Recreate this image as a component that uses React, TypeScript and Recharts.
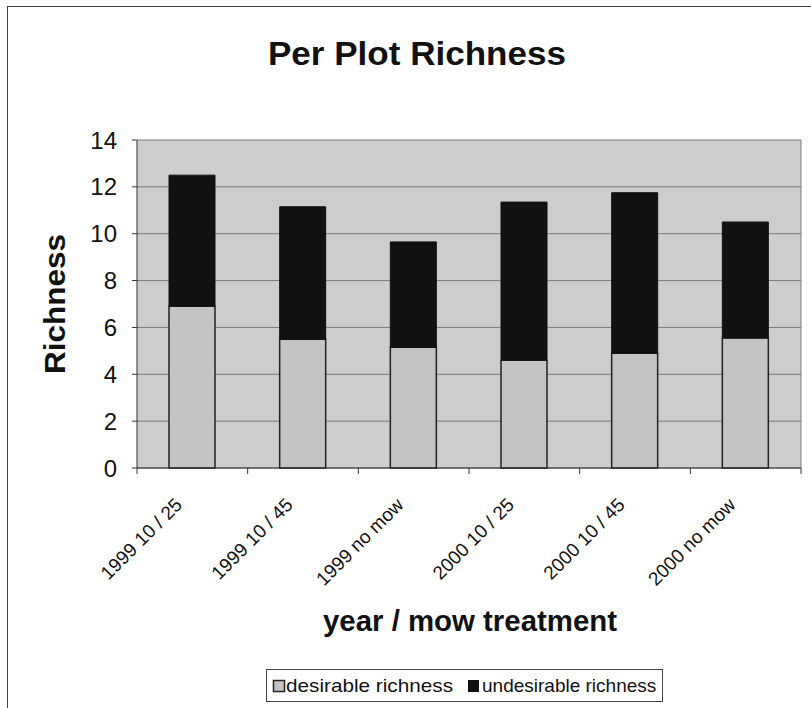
import { Bar, BarChart, CartesianGrid, Legend, XAxis, YAxis } from "recharts";

const categories = [
  "1999 10 / 25",
  "1999 10 / 45",
  "1999 no mow",
  "2000 10 / 25",
  "2000 10 / 45",
  "2000 no mow",
];
const desirable = [6.9, 5.5, 5.15, 4.6, 4.9, 5.55];
const undesirable = [5.6, 5.65, 4.5, 6.75, 6.85, 4.95];
const yTicks = [0, 2, 4, 6, 8, 10, 12, 14];

const data = categories.map((name, i) => ({
  name,
  desirable: desirable[i],
  undesirable: undesirable[i],
}));

const FONT = "'Liberation Sans', Arial, sans-serif";
const BAND = 664 / categories.length;

function XTick(props: any) {
  const { x, y, payload, index } = props;
  const last = index === categories.length - 1;
  const ax = x - 9;
  const ay = y + 38;
  return (
    <g>
      <line x1={x - BAND / 2} x2={x - BAND / 2} y1={y} y2={y + 6} stroke="#333" />
      {last && <line x1={x + BAND / 2} x2={x + BAND / 2} y1={y} y2={y + 6} stroke="#333" />}
      <text
        x={ax}
        y={ay}
        textAnchor="end"
        transform={`rotate(-45, ${ax}, ${ay})`}
        fontSize={19}
        fontFamily={FONT}
        fill="#111"
      >
        {payload.value}
      </text>
    </g>
  );
}

function YLabel(props: any) {
  const { viewBox } = props;
  const cy = viewBox.y + viewBox.height / 2;
  return (
    <text
      x={46}
      y={cy}
      transform={`rotate(-90, 46, ${cy})`}
      textAnchor="middle"
      dominantBaseline="central"
      fontSize={30}
      fontWeight="bold"
      fontFamily={FONT}
      textLength={140}
      lengthAdjust="spacingAndGlyphs"
      fill="#111"
    >
      Richness
    </text>
  );
}

function XLabel(props: any) {
  const { viewBox } = props;
  return (
    <text
      x={462}
      y={viewBox.y + 163}
      textAnchor="middle"
      fontSize={29}
      fontWeight="bold"
      fontFamily={FONT}
      textLength={294}
      lengthAdjust="spacingAndGlyphs"
      fill="#111"
    >
      year / mow treatment
    </text>
  );
}

function LegendBox() {
  return (
    <svg width={397} height={33} style={{ display: "block" }}>
      <rect x={0.5} y={0.5} width={396} height={32} fill="#fff" stroke="#444" />
      <rect x={7.5} y={11.5} width={11} height={11} fill="#c4c4c4" stroke="#222" strokeWidth={1.5} />
      <text x={20} y={23} fontSize={19} fontFamily={FONT} fill="#111" textLength={167} lengthAdjust="spacingAndGlyphs">
        desirable richness
      </text>
      <rect x={202} y={11} width={11} height={12} fill="#111" />
      <text x={216} y={23} fontSize={19} fontFamily={FONT} fill="#111">
        undesirable richness
      </text>
    </svg>
  );
}

export default function App() {
  return (
    <div
      style={{
        position: "absolute",
        left: 7,
        top: 6,
        width: 804,
        height: 702,
        boxSizing: "border-box",
        borderLeft: "1px solid #444",
        borderTop: "1px solid #444",
        background: "#fff",
      }}
    >
      <BarChart
        width={803}
        height={701}
        data={data}
        margin={{ top: 133, right: 10, left: 0, bottom: 6 }}
        barSize={46}
      >
        <text
          x={409}
          y={58}
          textAnchor="middle"
          fontSize={33}
          fontWeight="bold"
          fontFamily={FONT}
          textLength={298}
          lengthAdjust="spacingAndGlyphs"
          fill="#111"
        >
          Per Plot Richness
        </text>
        <CartesianGrid
          fill="#cdcdcd"
          stroke="#7a7a7a"
          vertical={true}
          verticalCoordinatesGenerator={({ offset }: any) => [offset.left + offset.width]}
        />
        <XAxis
          dataKey="name"
          height={201}
          interval={0}
          tickLine={false}
          tickSize={0}
          tickMargin={0}
          axisLine={{ stroke: "#333" }}
          tick={<XTick />}
          label={<XLabel />}
        />
        <YAxis
          width={129}
          domain={[0, 14]}
          ticks={yTicks}
          tickSize={5}
          tickMargin={15}
          axisLine={{ stroke: "#333" }}
          tickLine={{ stroke: "#333" }}
          tick={{ fontSize: 24, fontFamily: FONT, fill: "#111" }}
          label={<YLabel />}
        />
        <Legend
          verticalAlign="bottom"
          wrapperStyle={{ left: 258, width: 397 }}
          content={() => <LegendBox />}
        />
        <Bar
          dataKey="desirable"
          name="desirable richness"
          stackId="a"
          fill="#c4c4c4"
          stroke="#222"
          strokeWidth={1.5}
          isAnimationActive={false}
        />
        <Bar
          dataKey="undesirable"
          name="undesirable richness"
          stackId="a"
          fill="#111"
          stroke="#111"
          isAnimationActive={false}
        />
      </BarChart>
    </div>
  );
}
